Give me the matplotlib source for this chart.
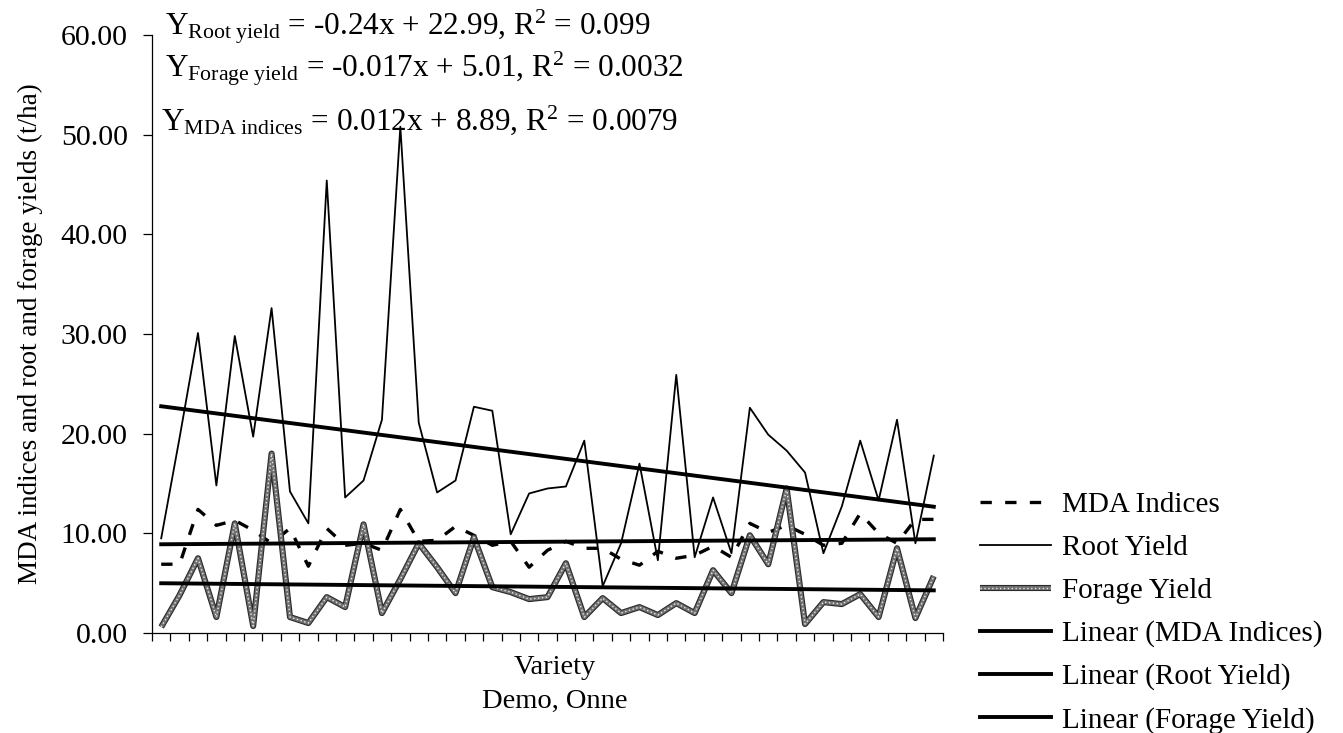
import matplotlib

matplotlib.use("Agg")
import matplotlib.pyplot as plt
import numpy as np

plt.rcParams.update({
    "font.family": ["Liberation Serif", "DejaVu Serif"],
    "mathtext.fontset": "custom",
    "mathtext.rm": "Liberation Serif",
    "mathtext.it": "Liberation Serif:italic",
    "mathtext.bf": "Liberation Serif:bold",
})

# values, one per variety (43 varieties)
mda_indices = [6.9, 6.9, 12.4, 10.8, 11.3, 10.3, 9.0, 10.5, 6.7, 10.5,
               8.8, 9.0, 8.3, 12.4, 9.2, 9.3, 10.7, 9.8, 8.8, 9.2,
               6.6, 8.3, 9.2, 8.5, 8.5, 7.4, 6.8, 8.2, 7.5, 7.8,
               8.7, 7.6, 11.0, 10.1, 10.8, 9.9, 8.8, 9.0, 12.0, 10.0,
               9.0, 11.4, 11.4]
root_yield = [9.5, 19.6, 30.1, 14.8, 29.8, 19.7, 32.6, 14.2, 11.0, 45.4,
              13.6, 15.3, 21.4, 50.8, 21.1, 14.1, 15.3, 22.7, 22.3, 9.9,
              14.0, 14.5, 14.7, 19.3, 4.7, 9.0, 17.0, 7.3, 25.9, 7.6,
              13.6, 8.0, 22.6, 19.9, 18.3, 16.1, 8.0, 12.7, 19.3, 13.3,
              21.4, 9.0, 17.8]
forage_yield = [0.6, 3.8, 7.5, 1.6, 11.0, 0.7, 18.0, 1.6, 1.0, 3.6,
                2.6, 10.9, 2.0, 5.4, 9.0, 6.6, 4.0, 9.6, 4.6, 4.1,
                3.4, 3.6, 7.0, 1.6, 3.5, 2.0, 2.6, 1.8, 3.0, 2.0,
                6.3, 4.0, 9.8, 6.9, 14.5, 0.9, 3.1, 2.9, 3.9, 1.6,
                8.5, 1.5, 5.7]

# trendline coefficients (slope, intercept) as printed on the chart
trend_mda = (0.012, 8.89)
trend_root = (-0.24, 22.99)
trend_forage = (-0.017, 5.01)

equations = [
    r"Y$_{\mathrm{Root\ yield}}$ = -0.24x + 22.99, R$^{2}$ = 0.099",
    r"Y$_{\mathrm{Forage\ yield}}$ = -0.017x + 5.01, R$^{2}$ = 0.0032",
    r"Y$_{\mathrm{MDA\ indices}}$ = 0.012x + 8.89, R$^{2}$ = 0.0079",
]
y_ticks = [0, 10, 20, 30, 40, 50, 60]

W, H = 1343, 733
fig = plt.figure(figsize=(W / 100, H / 100), dpi=100)
ax = fig.add_axes([152 / W, 1 - 633 / H, 791 / W, 598 / H])

n = len(root_yield)
x = np.arange(n)
xe = x + 1  # excel trendline x runs 1..n

mda_line, = ax.plot(x, mda_indices, color="black", lw=2.4, dashes=(3.4, 4.0))
root_line, = ax.plot(x, root_yield, color="black", lw=1.3)

# checkered grey line for forage yield, built from stacked strokes
forage_style = [dict(color="#2a2a2a", lw=4.4),
                dict(color="#707070", lw=2.8),
                dict(color="#e8e8e8", lw=1.0, dashes=(1, 1.8))]
forage_lines = []
for st in forage_style:
    ln, = ax.plot(x, forage_yield, solid_capstyle="butt", **st)
    forage_lines.append(ln)

lin_handles = []
for slope, icpt in (trend_mda, trend_root, trend_forage):
    ln, = ax.plot(x, slope * xe + icpt, color="black", lw=2.8)
    lin_handles.append(ln)

ax.set_xlim(-0.5, n - 0.5)
ax.set_ylim(0, 60)
ax.set_yticks(y_ticks)
ax.set_yticklabels([f"{v:.2f}" for v in y_ticks])
ax.set_xticks(np.arange(n + 1) - 0.5)
ax.set_xticklabels([])
ax.tick_params(axis="y", direction="out", length=6.5, width=0.9, pad=11, labelsize=21.5)
ax.tick_params(axis="x", direction="out", length=6, width=0.9)
for side in ("top", "right"):
    ax.spines[side].set_visible(False)
for side in ("left", "bottom"):
    ax.spines[side].set_linewidth(0.9)

ax.set_ylabel("MDA indices and root and forage yields (t/ha)", fontsize=19.5, labelpad=13)

fig.text(555 / W, 1 - 668 / H, "Variety", ha="center", va="center", fontsize=20.5)
fig.text(555 / W, 1 - 701 / H, "Demo, Onne", ha="center", va="center", fontsize=20.5)

eq_pos = [(165, 35), (165, 77), (161, 130)]
for (px, py), txt in zip(eq_pos, equations):
    fig.text(px / W, 1 - py / H, txt, ha="left", va="baseline", fontsize=22.5)

ax.legend(
    [mda_line, root_line, tuple(forage_lines)] + lin_handles,
    ["MDA Indices", "Root Yield", "Forage Yield",
     "Linear (MDA Indices)", "Linear (Root Yield)", "Linear (Forage Yield)"],
    loc="upper left", bbox_to_anchor=(980 / W, 1 - 492 / H),
    bbox_transform=fig.transFigure, frameon=False, fontsize=21,
    handlelength=2.45, handletextpad=0.35, labelspacing=0.56,
    borderpad=0, borderaxespad=0,
)

fig.savefig("out.png", dpi=100)
